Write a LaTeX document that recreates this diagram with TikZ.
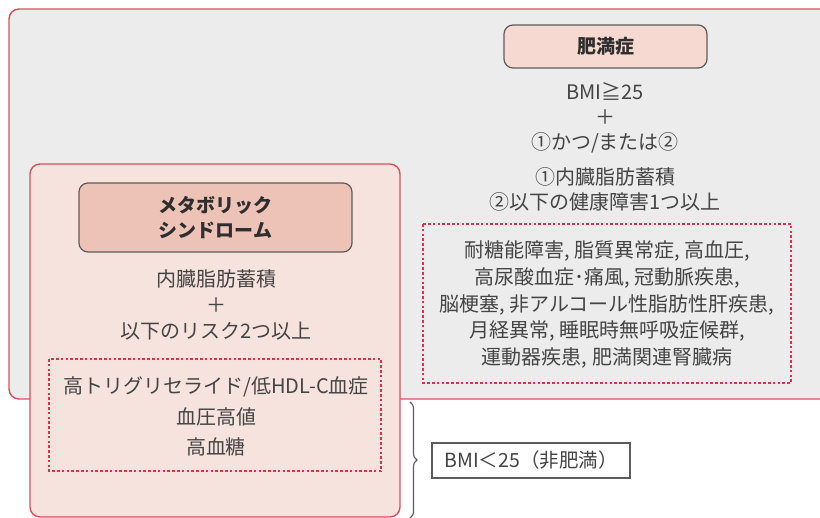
\documentclass[tikz,border=0pt]{standalone}
\usepackage{fontspec}
\setmainfont{Noto Sans CJK JP}
\usetikzlibrary{decorations.pathreplacing}
\definecolor{bggray}{HTML}{ECECEC}
\definecolor{boxred}{HTML}{D9505E}
\definecolor{dotred}{HTML}{D8334A}
\definecolor{pinkfill}{HTML}{F7E3DD}
\definecolor{hdrdark}{HTML}{EEC3B7}
\definecolor{hdrlight}{HTML}{F6D9D1}
\definecolor{txt}{HTML}{444444}
\definecolor{hdrtxt}{HTML}{2E2E2E}
\definecolor{edgegray}{HTML}{5C5C5C}
\tikzset{
  outerbox/.style={draw=boxred,fill=bggray,line width=1.4pt,rounded corners=10pt},
  pinkbox/.style={draw=boxred,fill=pinkfill,line width=1.4pt,rounded corners=10pt},
  hdrbox/.style={draw=edgegray,line width=1.2pt,rounded corners=9pt,align=center,text=hdrtxt,inner sep=0pt},
  dotbox/.style={draw=dotred,line width=1.6pt,dash pattern=on 2.6pt off 2.2pt},
  bodytext/.style={align=center,text=txt,inner sep=0pt},
  bmibox/.style={draw=edgegray,line width=1.1pt,fill=white,text=txt,inner sep=0pt,minimum width=198pt,minimum height=35pt},
  bracestyle/.style={draw=edgegray,line width=1.1pt,decorate,decoration={brace,amplitude=7pt}}
}
\begin{document}
\begin{tikzpicture}[x=1pt,y=-1pt]
\useasboundingbox (0,0) rectangle (820,518);
\clip (0,0) rectangle (820,518);
% outer obesity area
\draw[outerbox] (9,9) rectangle (845,399);
% metabolic syndrome area
\draw[pinkbox] (30,164) rectangle (400,517);
% headers
\node[hdrbox,fill=hdrlight,minimum width=203pt,minimum height=43pt,
      font={\fontsize{19}{24}\selectfont\bfseries}] (obh) at (605.5,46.5) {肥満症};
\node[hdrbox,fill=hdrdark,minimum width=273pt,minimum height=69pt,
      font={\fontsize{19}{25}\selectfont\bfseries}] (msh) at (215.5,217.5) {メタボリック\\シンドローム};
% right texts
\node[bodytext,font={\fontsize{20}{25}\selectfont}] (obc) at (605,118) {BMI≧25\\＋\\①かつ/または②};
\node[bodytext,font={\fontsize{20}{24.5}\selectfont}] (obd) at (605,189.5) {①内臓脂肪蓄積\\②以下の健康障害1つ以上};
\draw[dotbox] (423,224) rectangle (791,383);
\node[bodytext,font={\fontsize{20}{26.7}\selectfont}] (obl) at (607,304.5)
  {耐糖能障害, 脂質異常症, 高血圧,\\高尿酸血症･痛風, 冠動脈疾患,\\脳梗塞, 非アルコール性脂肪性肝疾患,\\月経異常, 睡眠時無呼吸症候群,\\運動器疾患, 肥満関連腎臓病};
% left texts
\node[bodytext,font={\fontsize{20}{26}\selectfont}] (msc) at (216,305) {内臓脂肪蓄積\\＋\\以下のリスク2つ以上};
\draw[dotbox] (49,359) rectangle (381,471);
\node[bodytext,font={\fontsize{20}{30.5}\selectfont}] (msl) at (216,416.5) {高トリグリセライド/低HDL-C血症\\血圧高値\\高血糖};
% brace and BMI<25
\coordinate (bt) at (410,402);
\coordinate (bb) at (410,518);
\draw[bracestyle] (bt) -- (bb);
\node[bmibox,font={\fontsize{19.5}{24}\selectfont}] (bmi) at (531,460.5) {BMI＜25（非肥満）};
\end{tikzpicture}
\end{document}
